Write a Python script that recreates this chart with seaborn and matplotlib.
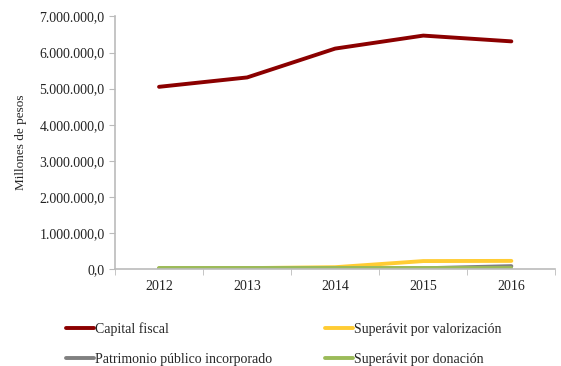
import matplotlib
matplotlib.use("Agg")
import matplotlib.pyplot as plt
import matplotlib.ticker as mticker
import seaborn as sns
import pandas as pd

years = ["2012", "2013", "2014", "2015", "2016"]
capital_fiscal = [5050000, 5310000, 6110000, 6470000, 6310000]
superavit_valorizacion = [20000, 25000, 50000, 220000, 225000]
patrimonio_incorporado = [10000, 10000, 15000, 20000, 80000]
superavit_donacion = [20000, 20000, 20000, 20000, 20000]

series = {
    "Capital fiscal": capital_fiscal,
    "Superávit por valorización": superavit_valorizacion,
    "Patrimonio público incorporado": patrimonio_incorporado,
    "Superávit por donación": superavit_donacion,
}
colors = {
    "Capital fiscal": "#8B0000",
    "Superávit por valorización": "#FFCC33",
    "Patrimonio público incorporado": "#808080",
    "Superávit por donación": "#9BBB59",
}

rows = []
for name, vals in series.items():
    for i, v in enumerate(vals):
        rows.append({"x": i, "year": years[i], "serie": name, "valor": v})
df = pd.DataFrame(rows)

sns.set_style("white")
plt.rcParams["font.family"] = ["Liberation Serif", "DejaVu Serif"]

fig = plt.figure(figsize=(5.61, 3.66), dpi=100)
ax = fig.add_axes([0.205, 0.265, 0.785, 0.69])

sns.lineplot(data=df, x="x", y="valor", hue="serie", palette=colors,
             linewidth=2.8, ax=ax, legend=False)

def fmt(v, pos):
    s = f"{v:,.1f}"
    return s.replace(",", "X").replace(".", ",").replace("X", ".")

ax.set_ylim(0, 7000000)
ax.set_xlim(-0.5, 4.5)
ax.yaxis.set_major_locator(mticker.MultipleLocator(1000000))
ax.yaxis.set_major_formatter(mticker.FuncFormatter(fmt))
ax.set_xticks(range(len(years)))
ax.set_xticklabels(years)
ax.set_xticks([i - 0.5 for i in range(len(years) + 1)], minor=True)
ax.tick_params(axis="x", which="major", length=0, labelsize=10, pad=8, colors="#222222")
ax.tick_params(axis="x", which="minor", length=4, color="#bbbbbb", direction="out", bottom=True)
ax.tick_params(axis="y", length=4, direction="out", labelsize=10, colors="#222222", left=True)
ax.tick_params(axis="y", color="#bbbbbb")
ax.set_xlabel("")
ax.set_ylabel("Millones de pesos", fontsize=9.5, labelpad=9)

for s in ["top", "right"]:
    ax.spines[s].set_visible(False)
for s in ["left", "bottom"]:
    ax.spines[s].set_color("#bbbbbb")
    ax.spines[s].set_linewidth(1.2)

# legend filled row by row like the original
order = ["Capital fiscal", "Patrimonio público incorporado",
         "Superávit por valorización", "Superávit por donación"]
handles = [plt.Line2D([], [], color=colors[n], linewidth=2.8) for n in order]
fig.legend(handles, order, loc="lower left", bbox_to_anchor=(0.095, -0.035),
           ncol=2, frameon=False, fontsize=10, handlelength=2.0, handletextpad=0.1,
           columnspacing=3.8, labelspacing=1.25)

fig.savefig("out.png", dpi=100)
